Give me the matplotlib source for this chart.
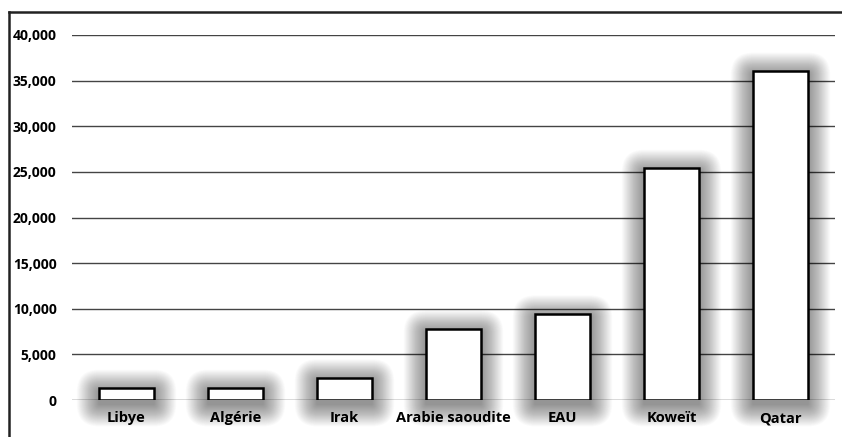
import matplotlib.pyplot as plt
from matplotlib.lines import Line2D
from matplotlib.patches import FancyBboxPatch
import numpy as np

countries = ['Libye', 'Algérie', 'Irak', 'Arabie saoudite', 'EAU', 'Koweït', 'Qatar']
values = [1300, 1300, 2450, 7800, 9450, 25400, 36050]
yticks = [0, 5000, 10000, 15000, 20000, 25000, 30000, 35000, 40000]

plt.rcParams['font.family'] = ['Open Sans', 'DejaVu Sans']

W, H = 842, 437
fig = plt.figure(figsize=(W / 100, H / 100), dpi=100)
ax = fig.add_axes([72 / W, 37 / H, 763 / W, 365 / H])

x = np.arange(len(countries))
width = 0.5

ax.set_xlim(-0.5, 6.5)
ax.set_ylim(0, 40000)

# data units per screen pixel
px_x = 7 / 763
px_y = 40000 / 365

# soft drop shadow: stacked translucent rounded boxes
n_layers = 30
for xi, v in zip(x, values):
    for i in range(1, n_layers + 1):
        pad = i * 0.75
        ax.add_patch(FancyBboxPatch(
            (xi - width / 2 - pad * px_x, -(pad + 4) * px_y),
            width + 2 * pad * px_x, v + 2 * pad * px_y,
            boxstyle='round,pad=0,rounding_size=%f' % (pad * px_x),
            mutation_aspect=px_y / px_x,
            facecolor='black', edgecolor='none', alpha=0.015,
            zorder=2, clip_on=False))

ax.bar(x, values, width=width, color='white', edgecolor='black',
       linewidth=1.8, zorder=3)
for t in yticks:
    ax.axhline(t, color='#444444', linewidth=1.0, zorder=1)

ax.set_yticks(yticks)
ax.set_yticklabels(['{:,}'.format(t) for t in yticks], fontsize=10, fontweight='bold')
ax.set_xticks(x)
ax.set_xticklabels(countries, fontsize=10.5, fontweight='bold')
ax.tick_params(axis='both', length=0)
ax.tick_params(axis='y', pad=11)
ax.tick_params(axis='x', pad=8)
for s in ax.spines.values():
    s.set_visible(False)

# frame lines at top and left of figure
fig.add_artist(Line2D([9 / W, 9 / W], [0, 1 - 12 / H], color='#222222', linewidth=1.8))
fig.add_artist(Line2D([9 / W, 1], [1 - 12 / H, 1 - 12 / H], color='#222222', linewidth=1.8))

fig.savefig('out.png', dpi=100)
